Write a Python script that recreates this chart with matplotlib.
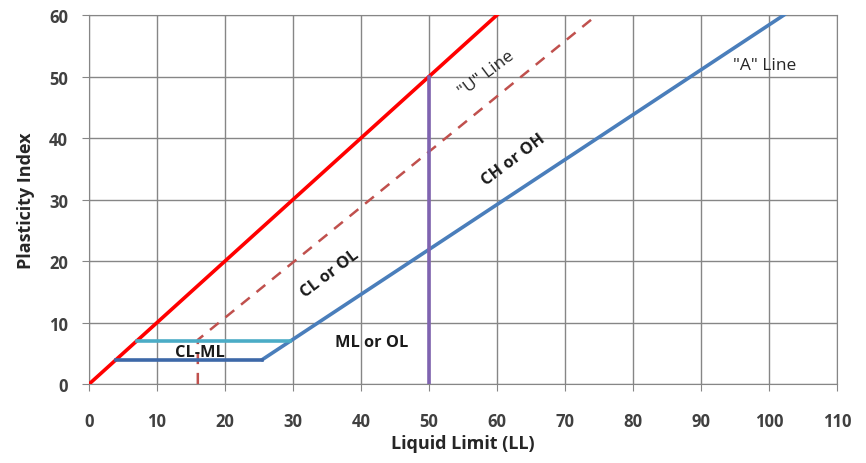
import matplotlib
matplotlib.use("Agg")
import matplotlib.pyplot as plt

# line definitions (liquid limit, plasticity index)
upper_ll = [0, 60]
upper_pi = [0, 60]
u_line_ll = [16, 16, 74.7]
u_line_pi = [0, 7.2, 60]
a_line_ll = [25.5, 102.2]
a_line_pi = [4, 60]
clml_low_ll = [4, 25.5]
clml_low_pi = [4, 4]
clml_high_ll = [7, 29.6]
clml_high_pi = [7, 7]
ll50_ll = [50, 50]
ll50_pi = [0, 50]

x_ticks = list(range(0, 111, 10))
y_ticks = list(range(0, 61, 10))

plt.rcParams["font.family"] = ["Open Sans", "DejaVu Sans"]

fig = plt.figure(figsize=(8.66, 4.64), dpi=100)
ax = fig.add_axes([0.1028, 0.170, 0.8637, 0.7955])

ax.plot(upper_ll, upper_pi, color="#FF0000", linewidth=2.6, zorder=3)
ax.plot(u_line_ll, u_line_pi, color="#C0504D", linewidth=1.8,
        linestyle=(0, (4.5, 3.5)), zorder=3)
ax.plot(a_line_ll, a_line_pi, color="#4A7EBB", linewidth=2.6, zorder=3)
ax.plot(clml_low_ll, clml_low_pi, color="#3D68A8", linewidth=2.6, zorder=3)
ax.plot(clml_high_ll, clml_high_pi, color="#4BACC6", linewidth=2.6, zorder=3)
ax.plot(ll50_ll, ll50_pi, color="#7F63B0", linewidth=2.6, zorder=3)

ax.set_xlim(0, 110)
ax.set_ylim(0, 60)
ax.set_xticks(x_ticks)
ax.set_yticks(y_ticks)
ax.grid(True, color="#868686", linewidth=1.0)
ax.set_axisbelow(True)
for spine in ax.spines.values():
    spine.set_color("#868686")
ax.tick_params(axis="both", length=5, color="#868686", labelcolor="#404040",
               labelsize=12)
ax.tick_params(axis="x", pad=15)
ax.tick_params(axis="y", pad=10)
for label in ax.get_xticklabels() + ax.get_yticklabels():
    label.set_fontweight("bold")

ax.set_xlabel("Liquid Limit (LL)", fontsize=13, fontweight="bold",
              color="#262626", labelpad=3)
ax.set_ylabel("Plasticity Index", fontsize=13, fontweight="bold",
              color="#262626", labelpad=10)

text_style = dict(fontsize=11.8, fontweight="bold", color="#1a1a1a",
                  ha="center", va="center")
ax.text(16.3, 5.3, "CL-ML", **text_style)
ax.text(41.5, 6.9, "ML or OL", **text_style)
ax.text(35.4, 18.0, "CL or OL", rotation=37, **text_style)
ax.text(62.4, 36.6, "CH or OH", rotation=37, **text_style)
ax.text(58.4, 50.6, '"U" Line', rotation=37, fontsize=12.5,
        color="#262626", ha="center", va="center")
ax.text(99.3, 51.9, '"A" Line', fontsize=12.5, color="#262626",
        ha="center", va="center")

fig.savefig("out.png", dpi=100)
